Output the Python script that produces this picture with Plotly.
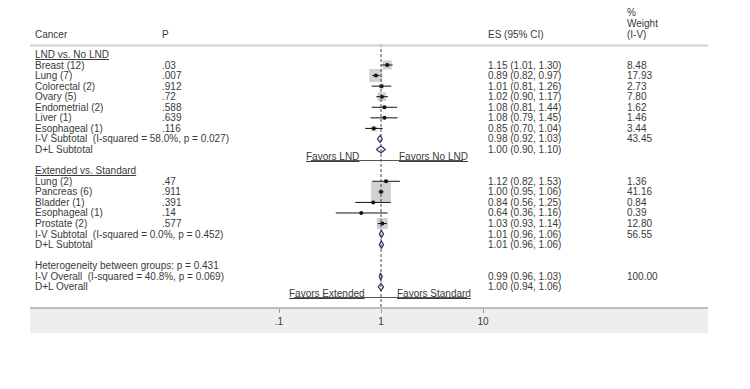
import math
import plotly.graph_objects as go

# ---------------- data ----------------
labels1 = ["Breast (12)", "Lung (7)", "Colorectal (2)", "Ovary (5)", "Endometrial (2)", "Liver (1)", "Esophageal (1)"]
p1 = [".03", ".007", ".912", ".72", ".588", ".639", ".116"]
es1 = [1.15, 0.89, 1.01, 1.02, 1.08, 1.08, 0.85]
lo1 = [1.01, 0.82, 0.81, 0.90, 0.81, 0.79, 0.70]
hi1 = [1.30, 0.97, 1.26, 1.17, 1.44, 1.45, 1.04]
w1 = [8.48, 17.93, 2.73, 7.80, 1.62, 1.46, 3.44]

labels2 = ["Lung (2)", "Pancreas (6)", "Bladder (1)", "Esophageal (1)", "Prostate (2)"]
p2 = [".47", ".911", ".391", ".14", ".577"]
es2 = [1.12, 1.00, 0.84, 0.64, 1.03]
lo2 = [0.82, 0.95, 0.56, 0.36, 0.93]
hi2 = [1.53, 1.06, 1.25, 1.16, 1.14]
w2 = [1.36, 41.16, 0.84, 0.39, 12.80]

summary_labels = ["I-V Subtotal  (I-squared = 58.0%, p = 0.027)", "D+L Subtotal",
                  "I-V Subtotal  (I-squared = 0.0%, p = 0.452)", "D+L Subtotal",
                  "I-V Overall  (I-squared = 40.8%, p = 0.069)", "D+L Overall"]
summary_es = [0.98, 1.00, 1.01, 1.01, 0.99, 1.00]
summary_lo = [0.92, 0.90, 0.96, 0.96, 0.96, 0.94]
summary_hi = [1.03, 1.10, 1.06, 1.06, 1.03, 1.06]
summary_w = [43.45, None, 56.55, None, 100.00, None]

group_titles = ["LND vs. No LND", "Extended vs. Standard"]
heterogeneity_text = "Heterogeneity between groups: p = 0.431"
favors_labels = [("Favors LND", "Favors No LND"), ("Favors Extended", "Favors Standard")]
tick_vals = [0.1, 1, 10]
tick_text = [".1", "1", "10"]

# ---------------- layout helpers (coordinates in window pixels) ----------------
OFF = 8                      # page body margin
WIN_W, WIN_H = 750, 389
W, H = WIN_W - OFF, WIN_H - OFF
ROW0_PX, ROW_H = 65.0, 10.57   # window pixel of row 1, pixels per row
PLOT_BOTTOM = 308.0
X1_PX, DEC_PX = 381.0, 102.0

def row_of(px):
    return 1 + (px - ROW0_PX) / ROW_H

def fx(px):
    return (px - OFF) / W

def fy(py):
    return 1 - (py - OFF) / H

TXT = "#3a3a3a"
FONT = "Liberation Sans, Arial, sans-serif"
FS = 10

rows1 = list(range(1, 8))
rows2 = list(range(12, 17))
summary_rows = [8, 9, 17, 18, 21, 22]

fig = go.Figure()

# CI lines
cx, cy = [], []
for r, lo, hi in zip(rows1 + rows2, lo1 + lo2, hi1 + hi2):
    cx += [lo, hi, None]
    cy += [r, r, None]

# weight boxes
fig.add_trace(go.Scatter(
    x=es1 + es2, y=rows1 + rows2, mode="markers",
    marker=dict(symbol="square", size=[3.1 * math.sqrt(w) for w in w1 + w2],
                color="#bdbdbd", line=dict(width=0)),
    hoverinfo="skip", showlegend=False))
fig.add_trace(go.Scatter(x=cx, y=cy, mode="lines", line=dict(color="#111111", width=1),
                         hoverinfo="skip", showlegend=False))
fig.add_trace(go.Scatter(
    x=es1 + es2, y=rows1 + rows2, mode="markers",
    marker=dict(symbol="circle", size=4, color="#111111"),
    hoverinfo="skip", showlegend=False))

# diamonds
dh = 0.33
for r, e, lo, hi in zip(summary_rows, summary_es, summary_lo, summary_hi):
    fig.add_trace(go.Scatter(
        x=[lo, e, hi, e, lo], y=[r, r - dh, r, r + dh, r], mode="lines",
        line=dict(color="#27336b", width=1.2), hoverinfo="skip", showlegend=False))

# null line
fig.add_shape(type="line", xref="x", yref="y", x0=1, x1=1, y0=row_of(44), y1=row_of(PLOT_BOTTOM),
              line=dict(color="#444444", width=1, dash="3px,2px"))

ann = []
def text(px, row, s, anchor="left", size=FS):
    ann.append(dict(x=fx(px), y=row, xref="paper", yref="y", text=s, showarrow=False,
                    xanchor=anchor, yanchor="middle", font=dict(family=FONT, size=size, color=TXT)))

# header
hdr_row = row_of(34)
text(33, hdr_row, "Cancer")
text(160, hdr_row, "P")
text(486, hdr_row, "ES (95% CI)")
text(625, row_of(12), "%")
text(625, row_of(23), "Weight")
text(625, hdr_row, "(I-V)")

# group titles
text(33, 0, "<u>" + group_titles[0] + "</u>")
text(33, 11, "<u>" + group_titles[1] + "</u>")

# study rows
for rows, labs, ps, es, lo, hi, w in [(rows1, labels1, p1, es1, lo1, hi1, w1),
                                       (rows2, labels2, p2, es2, lo2, hi2, w2)]:
    for r, l, p, e, a, b, ww in zip(rows, labs, ps, es, lo, hi, w):
        text(33, r, l)
        text(160, r, p)
        text(486, r, f"{e:.2f} ({a:.2f}, {b:.2f})")
        text(625, r, f"{ww:.2f}")

for r, l, e, a, b, ww in zip(summary_rows, summary_labels, summary_es, summary_lo, summary_hi, summary_w):
    text(33, r, l)
    text(486, r, f"{e:.2f} ({a:.2f}, {b:.2f})")
    if ww is not None:
        text(625, r, f"{ww:.2f}")
text(33, 20, heterogeneity_text)

# favors labels and lines
fav_specs = [(156.5, 160.5, 361, 397, 311, 463), (293.5, 297.5, 367, 395, 294, 467)]
for (lt, rt), (ty, ly, lx, rx, x0, x1) in zip(favors_labels, fav_specs):
    text(lx, row_of(ty), "<u>" + lt + "</u>", anchor="right")
    text(rx, row_of(ty), "<u>" + rt + "</u>", anchor="left")
    fig.add_shape(type="line", xref="paper", yref="y", x0=fx(x0), x1=fx(x1),
                  y0=row_of(ly), y1=row_of(ly), line=dict(color="#555555", width=1))

# header rule, axis band
fig.add_shape(type="line", xref="paper", yref="paper", x0=fx(30), x1=fx(708),
              y0=fy(45.5), y1=fy(45.5), line=dict(color="#d0d0d0", width=2))
fig.add_shape(type="rect", xref="paper", yref="paper", x0=fx(30), x1=fx(708),
              y0=fy(333), y1=fy(PLOT_BOTTOM), fillcolor="#eeeeee",
              line=dict(width=0), layer="below")
fig.add_shape(type="line", xref="paper", yref="paper", x0=fx(30), x1=fx(708),
              y0=fy(PLOT_BOTTOM), y1=fy(PLOT_BOTTOM), line=dict(color="#aaaaaa", width=1.5))

xl = (OFF - X1_PX) / DEC_PX
xr = (WIN_W - X1_PX) / DEC_PX

fig.update_layout(
    width=W, height=H, margin=dict(l=0, r=0, t=0, b=0),
    paper_bgcolor="white", plot_bgcolor="rgba(0,0,0,0)",
    annotations=ann,
    xaxis=dict(type="log", range=[xl, xr], domain=[0, 1], showgrid=False, zeroline=False,
               showline=False, tickvals=tick_vals, ticktext=tick_text, ticks="outside",
               ticklen=4, tickcolor="#999999", tickfont=dict(family=FONT, size=FS, color=TXT)),
    yaxis=dict(range=[row_of(PLOT_BOTTOM), row_of(OFF)], domain=[fy(PLOT_BOTTOM), 1],
               showgrid=False, zeroline=False, showticklabels=False, showline=False),
)

fig.write_html("out.html")
